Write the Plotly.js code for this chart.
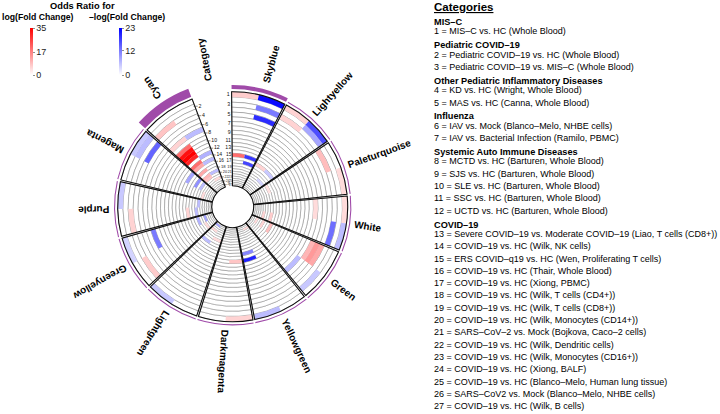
<!DOCTYPE html>
<html><head><meta charset="utf-8">
<script src="https://cdn.plot.ly/plotly-3.0.1.min.js"></script>
<style>html,body{margin:0;padding:0;background:#fff;}#chart{width:720px;height:414px;}</style>
</head><body><div id="chart"></div>
<script>
// ---------------- DATA ----------------
const sectors = ['Skyblue','Lightyellow','Paleturquoise','White','Green','Yellowgreen','Darkmagenta','Lightgreen','Greenyellow','Purple','Magenta','Cyan'];
const outerTrack = [0.47, 0.12, 0.1, 0.1, 0.12, 0.1, 0.1, 0.1, 0.12, 0.1, 0.12, 1.0];
const rowIds = [1,2,3,4,5,6,7,8,9,10,11,12,13,14,15,16,17,18,19,20,21,22,23,24,25,26,27];
// per module: column A and column B, one value per comparison (row 1..27)
// positive = odds ratio for log(Fold Change) (red), negative = odds ratio for -log(Fold Change) (blue)
const skyblueA       = [7,0,0,0,0,0,0,0,0, 0,0,0,0,0,20,0,0,0, 0,0,0,0,0,0,0,0,0];
const skyblueB       = [-22,0,-12,0,-19,0,0,0,0, 0,0,0,0,0,-18,0,-17,0, 0,0,0,0,0,0,0,0,0];
const lightyellowA   = [6,0,6,0,0,0,0,0,0, 0,0,0,0,0,0,6,0,0, 0,0,0,0,0,0,0,0,0];
const lightyellowB   = [-16,-8,0,0,0,0,0,0,0, 0,0,0,0,0,0,-5,0,0, 0,-4,0,0,0,0,0,0,0];
const paleturquoiseA = [0,0,9,0,0,0,0,0,0, 0,0,0,0,0,0,0,0,0, 4,0,0,0,0,0,0,0,0];
const paleturquoiseB = [5,0,0,0,0,0,0,0,0, 0,0,0,0,0,0,0,0,0, 0,0,0,0,0,0,0,0,0];
const whiteA         = [5,0,0,0,0,0,5,0,0, 0,0,0,0,0,0,0,0,0, 0,0,0,0,0,0,0,0,0];
const whiteB         = [-6,0,-13,0,0,0,0,0,0, 0,0,0,0,0,0,0,0,0, 7,0,0,6,0,0,0,0,0];
const greenA         = [0,0,0,12,14,10,0,0,0, 0,0,0,0,0,0,0,0,9, 0,0,6,0,0,5,0,0,0];
const greenB         = [0,-5,0,0,0,0,-6,0,0, 0,0,0,0,0,0,0,0,0, 0,0,0,0,0,0,0,0,0];
const yellowgreenA   = [0,0,0,0,0,0,0,0,0, 0,0,0,0,0,0,0,0,0, 0,0,0,0,0,0,5,0,0];
const yellowgreenB   = [-6,0,0,0,0,0,0,0,0, 0,0,0,0,-20,0,-11,0,0, 0,0,0,0,0,0,0,0,0];
const darkmagentaA   = [6,0,0,0,0,0,0,0,0, 0,0,0,0,8,0,0,0,0, 0,0,0,0,0,0,0,0,0];
const darkmagentaB   = [0,0,0,0,0,0,0,0,0, 0,0,0,0,0,0,0,0,0, 0,0,0,0,0,0,0,0,0];
const lightgreenA    = [0,0,0,0,0,0,0,0,0, 0,0,0,0,0,0,0,0,0, 0,5,0,0,0,0,0,0,0];
const lightgreenB    = [-5,0,0,0,0,0,0,0,0, 0,0,0,0,0,0,0,0,-6, 0,0,0,0,5,0,0,-8,0];
const greenyellowA   = [0,0,7,0,0,0,0,0,0, 0,0,0,0,0,0,0,0,0, 0,0,0,5,0,0,0,0,0];
const greenyellowB   = [-4,0,0,0,0,0,-12,0,0, 0,0,0,0,0,0,0,0,0, 0,-7,0,0,-8,0,0,0,0];
const purpleA        = [0,0,6,0,0,0,0,0,0, 0,0,0,0,0,0,0,6,0, 0,-6,0,0,0,0,0,0,0];
const purpleB        = [-5,0,0,0,0,0,0,0,0, 0,0,0,0,0,0,0,0,0, 0,0,-6,0,0,0,0,0,0];
const magentaA       = [0,0,0,0,0,0,0,0,0, 0,0,0,0,0,0,0,0,0, 0,0,0,5,0,0,0,0,0];
const magentaB       = [-5,-6,0,-14,0,0,0,0,0, 0,0,0,0,0,-8,0,0,-10, 0,-6,0,0,0,0,0,0,0];
const cyanA          = [0,0,8,0,0,0,6,0,20, 33,35,30,0,20,12,0,12,0, 10,8,0,0,0,0,0,0,0];
const cyanB          = [0,0,0,0,0,0,-6,0,0, 0,0,0,-7,0,-6,0,0,0, -6,0,0,5,0,0,0,0,0];
const colA = [skyblueA,lightyellowA,paleturquoiseA,whiteA,greenA,yellowgreenA,darkmagentaA,lightgreenA,greenyellowA,purpleA,magentaA,cyanA];
const colB = [skyblueB,lightyellowB,paleturquoiseB,whiteB,greenB,yellowgreenB,darkmagentaB,lightgreenB,greenyellowB,purpleB,magentaB,cyanB];
const redTicks = [0,17,35];
const blueTicks = [0,12,23];
const groups = [
  ['MIS–C', ['1 = MIS–C vs. HC (Whole Blood)']],
  ['Pediatric COVID–19', ['2 = Pediatric COVID–19 vs. HC (Whole Blood)','3 = Pediatric COVID–19 vs. MIS–C (Whole Blood)']],
  ['Other Pediatric Inflammatory Diseases', ['4 = KD vs. HC (Wright, Whole Blood)','5 = MAS vs. HC (Canna, Whole Blood)']],
  ['Influenza', ['6 = IAV vs. Mock (Blanco–Melo, NHBE cells)','7 = IAV vs. Bacterial Infection (Ramilo, PBMC)']],
  ['Systemic Auto Immune Diseases', ['8 = MCTD vs. HC (Barturen, Whole Blood)','9 = SJS vs. HC (Barturen, Whole Blood)','10 = SLE vs. HC (Barturen, Whole Blood)','11 = SSC vs. HC (Barturen, Whole Blood)','12 = UCTD vs. HC (Barturen, Whole Blood)']],
  ['COVID–19', ['13 = Severe COVID–19 vs. Moderate COVID–19 (Liao, T cells (CD8+))','14 = COVID–19 vs. HC (Wilk, NK cells)','15 = ERS COVID–q19 vs. HC (Wen, Proliferating T cells)','16 = COVID–19 vs. HC (Thair, Whole Blood)','17 = COVID–19 vs. HC (Xiong, PBMC)','18 = COVID–19 vs. HC (Wilk, T cells (CD4+))','19 = COVID–19 vs. HC (Wilk, T cells (CD8+))','20 = COVID–19 vs. HC (Wilk, Monocytes (CD14+))','21 = SARS–CoV–2 vs. Mock (Bojkova, Caco–2 cells)','22 = COVID–19 vs. HC (Wilk, Dendritic cells)','23 = COVID–19 vs. HC (Wilk, Monocytes (CD16+))','24 = COVID–19 vs. HC (Xiong, BALF)','25 = COVID–19 vs. HC (Blanco–Melo, Human lung tissue)','26 = SARS–CoV2 vs. Mock (Blanco–Melo, NHBE cells)','27 = COVID–19 vs. HC (Wilk, B cells)']]
];

// ---------------- GEOMETRY ----------------
const W=720, H=414;
const CX=232.7, CY=206.7, RMAX=130;
const R_OUT=115, R_IN=21, N=rowIds.length;
const B0=359.0, SW=28.4, GAP=0.9;
const H_OUT=5.32, H_IN=2*(R_OUT-R_IN)/N - H_OUT;
const edges=[R_OUT];
for(let k=0;k<N;k++){ const h=H_OUT+(H_IN-H_OUT)*k/(N-1); edges.push(edges[k]-h); }
const mod=a=>((a%360)+360)%360;
function span(i){ const s=B0+SW*i+GAP/2, w=SW-GAP; return {s:s,w:w,c:mod(s+w/2)}; }
const FONT='Liberation Sans, Arial, sans-serif';

const traces=[];
// background grid cells
const bg={t:[],b:[],r:[],w:[]};
sectors.forEach((n,i)=>{const sp=span(i); for(let k=0;k<N;k++){bg.t.push(sp.c);bg.w.push(sp.w);bg.b.push(edges[k+1]);bg.r.push(edges[k]-edges[k+1]);}});
traces.push({type:'barpolar',theta:bg.t,r:bg.r,base:bg.b,width:bg.w,marker:{color:'#ffffff',line:{color:'#808080',width:0.5}},hoverinfo:'skip'});

// colored cells
const red={t:[],b:[],r:[],w:[],v:[]}, blue={t:[],b:[],r:[],w:[],v:[]};
sectors.forEach((n,i)=>{const sp=span(i);
  [colA[i],colB[i]].forEach((col,c)=>{
    col.forEach((v,k)=>{ if(!v) return; const o=v>0?red:blue;
      o.t.push(mod(sp.s+sp.w/4+c*sp.w/2)); o.w.push(sp.w/2); o.b.push(edges[k+1]); o.r.push(edges[k]-edges[k+1]); o.v.push(Math.abs(v)); });
  });
});
const cbCommon={thickness:2.5,thicknessmode:'pixels',len:47,lenmode:'pixels',yanchor:'middle',y:1-51.5/H,xanchor:'left',xpad:0,ypad:0,outlinewidth:0,ticks:'outside',ticklen:2,tickwidth:0.6,tickcolor:'#444',tickfont:{size:9,color:'#222',family:FONT},title:{text:''}};
traces.push({type:'barpolar',theta:red.t,r:red.r,base:red.b,width:red.w,
  marker:{color:red.v,colorscale:[[0,'#ffffff'],[1,'#ff0000']],cmin:0,cmax:35,line:{width:0},showscale:true,
  colorbar:Object.assign({},cbCommon,{x:29.5/W,tickvals:redTicks})},hoverinfo:'skip'});
traces.push({type:'barpolar',theta:blue.t,r:blue.r,base:blue.b,width:blue.w,
  marker:{color:blue.v,colorscale:[[0,'#ffffff'],[1,'#0000ff']],cmin:0,cmax:23,line:{width:0},showscale:true,
  colorbar:Object.assign({},cbCommon,{x:118.5/W,tickvals:blueTicks})},hoverinfo:'skip'});

// sector outlines
const ol={t:[],w:[]};
sectors.forEach((n,i)=>{const sp=span(i);ol.t.push(sp.c);ol.w.push(sp.w);});
traces.push({type:'barpolar',theta:ol.t,r:ol.t.map(()=>R_OUT-R_IN),base:ol.t.map(()=>R_IN),width:ol.w,
  marker:{color:'rgba(0,0,0,0)',line:{color:'#111',width:1.1}},hoverinfo:'skip'});

// outer track
traces.push({type:'barpolar',theta:ol.t,width:ol.w,base:ol.t.map(()=>117.6),r:outerTrack.map(v=>Math.max(1.1,v*8.5)),
  marker:{color:'#a04ba9',line:{width:0}},hoverinfo:'skip'});

// row index labels in the Category sector (font shrinks with the track height)
const rc=rowIds.map((id,k)=>(edges[k]+edges[k+1])/2);
const rh=rowIds.map((id,k)=>edges[k]-edges[k+1]);
const catR=B0-0.5, catL=span(11).s+span(11).w+0.4;
rowIds.forEach((id,k)=>{
  const right=id%2===1;
  const size=Math.max(2.6,Math.min(5.2,rh[k]*1.45));
  traces.push({type:'scatterpolar',mode:right?'text':'text+markers',r:[rc[k]],theta:[right?catR:catL],text:[String(id)],
    textposition:right?'middle left':'middle right',textfont:{size:size,color:'#111',family:FONT},
    marker:{symbol:'line-ew',size:3,line:{width:0.5,color:'#222'}},cliponaxis:false,hoverinfo:'skip'});
});

// ---------------- ANNOTATIONS ----------------
const ann=[];
const cv=document.createElement('canvas').getContext('2d');
cv.font='bold 10px "Liberation Sans", Arial, sans-serif';
function px(r,th){const a=th*Math.PI/180;return [CX+r*Math.sin(a),CY-r*Math.cos(a)];}
function sectorLabel(text,th,rStart){
  const w=cv.measureText(text).width; const p=px(rStart+w/2,th);
  let ang=mod(th-90+180)-180;
  ann.push({text:'<b>'+text+'</b>',x:p[0]/W,y:1-p[1]/H,xref:'paper',yref:'paper',xanchor:'center',yanchor:'middle',
    showarrow:false,textangle:ang,font:{size:10,color:'#000',family:FONT}});
}
sectors.forEach((n,i)=>{const sp=span(i);
  const rs=n==='Cyan'?131.5:(n==='Skyblue'?129:123.5);
  const th=n==='Skyblue'?sp.c+2:sp.c;
  sectorLabel(n,th,rs);});
sectorLabel('Category',mod((span(11).s+span(11).w+B0+360)/2),128);

// left legend titles
function txt(t,x,y,size,anchor,bold){ann.push({text:bold?'<b>'+t+'</b>':t,x:x/W,y:1-y/H,xref:'paper',yref:'paper',xanchor:anchor,yanchor:'middle',showarrow:false,font:{size:size,color:'#000',family:FONT}});}
txt('Odds Ratio for',82.5,6.5,9.3,'center',true);
txt('log(Fold Change)',37.5,17.5,8.7,'center',true);
txt('–log(Fold Change)',127,17.5,8.7,'center',true);

// right legend
txt('<u>Categories</u>',432,7,11.5,'left',true);
let y=22;
groups.forEach((g,gi)=>{
  if(gi>0) y+=14;
  txt(g[0],432,y,9.2,'left',true);
  g[1].forEach((it,ii)=>{ y+= ii===0?9.3:12.3; txt(it,432,y,9,'left',false); });
});

const layout={width:W,height:H,margin:{l:0,r:0,t:0,b:0,pad:0},paper_bgcolor:'#ffffff',plot_bgcolor:'#ffffff',showlegend:false,
  font:{family:FONT,color:'#000'},
  polar:{domain:{x:[(CX-RMAX)/W,(CX+RMAX)/W],y:[1-(CY+RMAX)/H,1-(CY-RMAX)/H]},bgcolor:'rgba(0,0,0,0)',barmode:'overlay',
    radialaxis:{range:[0,RMAX],visible:false},angularaxis:{rotation:90,direction:'clockwise',visible:false}},
  annotations:ann};
Plotly.newPlot('chart',traces,layout,{staticPlot:true,displayModeBar:false});
</script></body></html>
